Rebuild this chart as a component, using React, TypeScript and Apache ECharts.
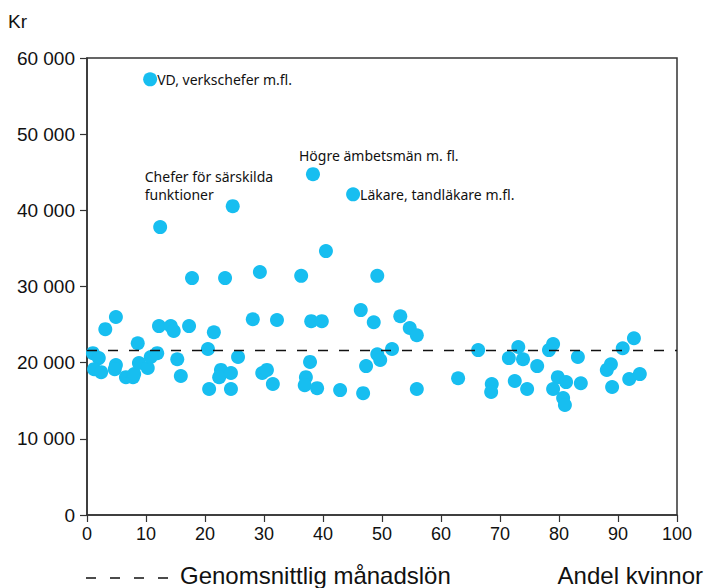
import React, { useEffect, useRef } from "react";
import * as echarts from "echarts";

// Andel kvinnor (%) per yrkesgrupp
const shareWomen: number[] = [
  10.7, 12.4, 24.7, 38.3, 45.1, 40.5, 17.8, 23.4, 29.3, 36.3, 49.2,
  1.0, 2.0, 1.2, 2.4, 3.1, 4.9, 4.9, 4.7, 6.6, 7.8, 8.0, 8.6, 8.8, 10.3, 10.8, 11.9,
  12.2, 14.2, 14.7, 15.3, 15.9, 17.3, 21.5, 20.5, 20.7, 22.7, 22.4, 24.4, 24.4, 25.6,
  28.1, 32.2, 29.7, 30.5, 31.5, 38.0, 39.8, 46.4, 48.6, 53.1, 54.7, 55.9, 51.7, 49.2,
  49.7, 47.3, 37.8, 37.1, 36.9, 39.0, 42.9, 46.8, 55.9, 62.9, 66.3, 68.6, 68.5, 73.1,
  71.5, 73.9, 72.5, 74.6, 76.3, 79.0, 78.3, 79.8, 81.2, 79.0, 80.7, 81.0, 83.2, 83.7,
  88.8, 88.1, 89.0, 90.8, 92.7, 91.9, 93.7,
];
// Genomsnittlig månadslön (kr)
const salary: number[] = [
  57200, 37800, 40550, 44750, 42100, 34650, 31100, 31100, 31900, 31400, 31400,
  21250, 20600, 19150, 18750, 24400, 26000, 19700, 19150, 18100, 18100, 18500, 22550, 19950, 19300, 20750, 21250,
  24800, 24800, 24150, 20450, 18250, 24800, 24000, 21800, 16550, 19050, 18100, 18650, 16550, 20750,
  25700, 25600, 18650, 19050, 17200, 25450, 25450, 26900, 25300, 26100, 24550, 23600, 21800, 21100,
  20350, 19550, 20100, 18100, 17050, 16650, 16400, 16000, 16550, 17950, 21650, 17200, 16150, 22050,
  20600, 20450, 17600, 16550, 19550, 22450, 21650, 18100, 17450, 16550, 15350, 14450, 20750, 17300,
  19800, 19050, 16800, 21900, 23200, 17850, 18500,
];
// Namngivna yrkesgrupper (index i arrayerna ovan)
const namedIndex: number[] = [0, 2, 3, 4];
const namedText: string[] = [
  "VD, verkschefer m.fl.",
  "Chefer för särskilda\nfunktioner",
  "Högre ämbetsmän m. fl.",
  "Läkare, tandläkare m.fl.",
];
const averageSalary = 21600;
const xTicks = { min: 0, max: 100, interval: 10 };
const yTicks = { min: 0, max: 60000, interval: 10000 };

const labelFont = "'Noto Sans', sans-serif";
const axisFont = "'Liberation Sans', Arial, sans-serif";
const narrowFont = "'Liberation Sans Narrow', 'Liberation Sans', sans-serif";

export default function App() {
  const ref = useRef<HTMLDivElement>(null);
  useEffect(() => {
    if (!ref.current) return;
    const chart = echarts.init(ref.current, undefined, { renderer: "svg" });
    const labelPos: any[] = [
      { position: "right", distance: 0 },
      { position: [-81, -14], align: "left", verticalAlign: "middle" },
      { position: [-7, -12], align: "left", verticalAlign: "middle" },
      { position: "right", distance: 0 },
    ];
    const data = shareWomen.map((x, i) => {
      const k = namedIndex.indexOf(i);
      const item: any = { value: [x, salary[i]] };
      if (k >= 0) {
        item.label = {
          show: true,
          formatter: namedText[k],
          color: "#111",
          fontSize: 14,
          fontFamily: labelFont,
          lineHeight: 18,
          ...labelPos[k],
        };
      }
      return item;
    });
    chart.setOption({
      animation: false,
      grid: {
        left: 87,
        right: 29,
        top: 58,
        bottom: 73,
        show: true,
        borderColor: "#333",
        borderWidth: 1.5,
        backgroundColor: "transparent",
      },
      xAxis: {
        type: "value",
        ...xTicks,
        axisLine: { show: true, lineStyle: { color: "#333", width: 1.5 } },
        axisTick: { show: true, inside: false, length: 7, lineStyle: { color: "#333", width: 1.2 } },
        splitLine: { show: false },
        axisLabel: { color: "#111", fontSize: 18, fontFamily: axisFont, margin: 10 },
      },
      yAxis: {
        type: "value",
        ...yTicks,
        axisLine: { show: true, lineStyle: { color: "#333", width: 1.5 } },
        axisTick: { show: true, inside: false, length: 7, lineStyle: { color: "#333", width: 1.2 } },
        splitLine: { show: false },
        axisLabel: {
          color: "#111",
          fontSize: 19,
          fontFamily: axisFont,
          margin: 12,
          formatter: (v: number) => String(v).replace(/\B(?=(\d{3})+(?!\d))/g, " "),
        },
      },
      series: [
        {
          type: "scatter",
          symbolSize: 14,
          itemStyle: { color: "#17BEF0", opacity: 1 },
          data,
          markLine: {
            silent: true,
            symbol: "none",
            label: { show: false },
            lineStyle: { color: "#111", type: [10, 11], width: 1.4 },
            data: [[{ coord: [xTicks.min, averageSalary] }, { coord: [xTicks.max, averageSalary] }]],
          },
          z: 3,
        },
      ],
      graphic: [
        {
          type: "text",
          left: 8,
          top: 12,
          style: { text: "Kr", fontSize: 19, fontFamily: axisFont, fill: "#111" },
        },
        {
          type: "line",
          shape: { x1: 86, y1: 578, x2: 168, y2: 578 },
          style: { stroke: "#111", lineWidth: 1.4, lineDash: [10, 14] },
        },
        {
          type: "text",
          left: 180,
          top: 563,
          style: { text: "Genomsnittlig månadslön", fontSize: 24, fontFamily: narrowFont, fill: "#111" },
        },
        {
          type: "text",
          right: 3,
          top: 563,
          style: { text: "Andel kvinnor", fontSize: 24, fontFamily: narrowFont, fill: "#111" },
        },
      ],
    });
    return () => chart.dispose();
  }, []);
  return (
    <div
      ref={ref}
      style={{ position: "fixed", left: 0, top: 0, width: 706, height: 588, background: "#fff" }}
    />
  );
}
